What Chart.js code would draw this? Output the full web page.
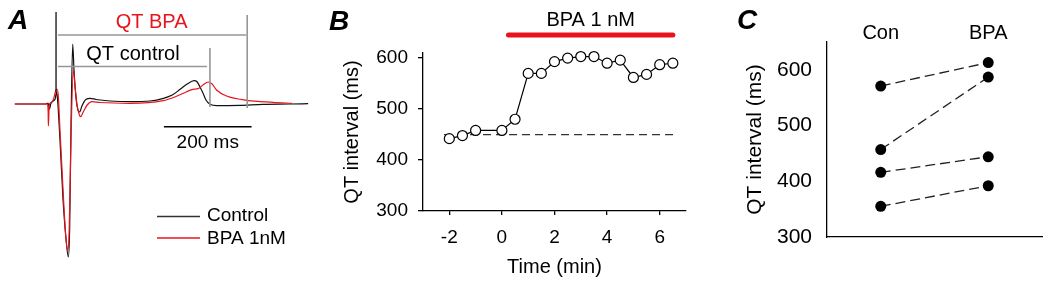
<!DOCTYPE html>
<html><head><meta charset="utf-8">
<script src="https://cdn.jsdelivr.net/npm/chart.js@4.4.1/dist/chart.umd.min.js"></script>
<style>
html,body{margin:0;padding:0;background:#fff;}
#wrap{position:relative;width:1050px;height:287px;overflow:hidden;}
.pc{position:absolute;top:0;height:287px;}
.lab{position:absolute;font:italic bold 28px "Liberation Sans",Arial,sans-serif;color:#000;line-height:1;}
</style></head><body>
<div id="wrap">
  <div class="pc" style="left:0;width:335px"><canvas id="cA"></canvas></div>
  <div class="pc" style="left:335px;width:365px"><canvas id="cB"></canvas></div>
  <div class="pc" style="left:700px;width:350px"><canvas id="cC"></canvas></div>
  <div class="lab" style="left:8px;top:6px">A</div>
  <div class="lab" style="left:329px;top:7px">B</div>
  <div class="lab" style="left:737px;top:6px">C</div>
</div>
<script>
// ---------- Panel A: ECG traces (time in ms, amplitude in a.u.) ----------
const ctrlTime = [-94,-23,-18,-15,-12,-7,-2,1,3,9,16,23,28,31,34,38,41,46,50,54,59,68,78,91,123,169,214,245,265,283,299,315,322,328,335,342,351,367,420,472,534,575];
const ctrlAmp  = [0,0,1,-5,0,3,5,12,7,-36,-96,-136,-153,-126,-26,60,34,4,-6,-8,-2,4.5,5.7,4.5,3,2.3,3,5.7,9,14.7,20,23.3,22,17.3,11,4,-0.3,-1.7,-1.3,-0.3,0,0.3];
const bpaTime  = [-94,-20,-18,-17.5,-16,-15,-9,-5,-1,2,5,9,16,22,26,30,34,39.5,43,48,52.5,56,62,71,82,100,169,244,271,298,312,324,335,347,356,366,389,435,495,538];
const bpaAmp   = [0,0,-8,-22,-6,0,2,6,13,15,9,-26,-86,-131,-146,-126,-36,34,19,-1,-10,-12.7,-8,-1,2.3,1.5,0.7,3.3,7,12.3,14.7,15.3,19,22,20,14,8,3.7,1.7,0.7];
const qtStart = 0, qtControlEnd = 351, qtBpaEnd = 436;
const scaleBarStart = 246, scaleBarLen = 200;
const traceLabels = ['Control', 'BPA 1nM'];

// ---------- Panel B: time course ----------
const timeMin = [-2,-1.5,-1,0,0.5,1,1.5,2,2.5,3,3.5,4,4.5,5,5.5,6,6.5];
const qtMs    = [442,448,458,458,480,570,570,593,600,603,603,590,596,562,568,587,590];
const timeTicks = [-2,0,2,4,6];
const qtTicks = [300,400,500,600];
const baselineQT = 450;
const baselineSpan = [-2.2, 6.7];
const bpaPeriod = [0.25, 6.5];
const bpaBarLabel = 'BPA 1 nM';

// ---------- Panel C: paired QT ----------
const groups = ['Con', 'BPA'];
const conQT = [571, 457, 416, 355];
const bpaQT = [613, 587, 444, 392];

const FONT = '"Liberation Sans", Arial, sans-serif';
const RED = 'rgb(232,20,28)';
const GRAYL = 'rgb(150,150,150)';
Chart.defaults.font.family = FONT;
Chart.defaults.color = '#000';
const zip = (xs, ys) => xs.map((v, i) => ({x: v, y: ys[i]}));

function ln(ctx, x1, y1, x2, y2, color, w, cap) {
  ctx.beginPath(); ctx.strokeStyle = color; ctx.lineWidth = w; ctx.lineCap = cap || 'butt';
  ctx.moveTo(x1, y1); ctx.lineTo(x2, y2); ctx.stroke();
}
function tx(ctx, s, x, y, color, size, align) {
  ctx.fillStyle = color; ctx.font = size + 'px ' + FONT;
  ctx.textAlign = align || 'center'; ctx.textBaseline = 'middle';
  ctx.fillText(s, x, y);
}

// Panel A
const annotA = {
  id: 'annotA',
  afterDraw(chart) {
    const ctx = chart.ctx, X = chart.scales.x;
    const px = v => X.getPixelForValue(v);
    ctx.save();
    ln(ctx, px(qtStart), 12, px(qtStart), 92, '#111', 1.3);
    ln(ctx, px(qtBpaEnd), 15, px(qtBpaEnd), 108, GRAYL, 1.6);
    ln(ctx, px(qtControlEnd), 48, px(qtControlEnd), 107, GRAYL, 1.6);
    ln(ctx, px(qtStart) + 2, 35, px(qtBpaEnd) - 1, 35, GRAYL, 1.6);
    ln(ctx, px(qtStart) + 2, 66.5, px(qtControlEnd) - 3, 66.5, GRAYL, 1.6);
    tx(ctx, 'QT BPA', (px(qtStart) + px(qtBpaEnd)) / 2, 22, RED, 20);
    tx(ctx, 'QT control', (px(qtStart) + px(qtControlEnd)) / 2, 54, '#000', 20);
    ln(ctx, px(scaleBarStart), 126.7, px(scaleBarStart + scaleBarLen), 126.7, '#000', 1.5);
    tx(ctx, scaleBarLen + ' ms', (px(scaleBarStart) + px(scaleBarStart + scaleBarLen)) / 2, 142.5, '#000', 19);
    ln(ctx, 157, 216.5, 200, 216.5, '#333', 1.3);
    tx(ctx, traceLabels[0], 207, 216, '#000', 19, 'left');
    ln(ctx, 157, 238, 200, 238, RED, 1.3);
    tx(ctx, traceLabels[1], 207, 238.5, '#000', 19, 'left');
    ctx.restore();
  }
};
new Chart(document.getElementById('cA'), {
  type: 'line',
  data: { datasets: [
    { label: traceLabels[1], data: zip(bpaTime, bpaAmp), borderColor: RED, borderWidth: 1.2, pointRadius: 0, cubicInterpolationMode: 'monotone', order: 0 },
    { label: traceLabels[0], data: zip(ctrlTime, ctrlAmp), borderColor: '#111', borderWidth: 1.2, pointRadius: 0, cubicInterpolationMode: 'monotone', order: 1 }
  ]},
  options: {
    responsive: true, maintainAspectRatio: false, animation: false,
    layout: { padding: { left: 10, right: 15, top: 0, bottom: 0 } },
    plugins: { legend: { display: false }, tooltip: { enabled: false } },
    scales: {
      x: { type: 'linear', display: false, min: -105, max: 602 },
      y: { type: 'linear', display: false, min: -183, max: 104 }
    }
  },
  plugins: [annotA]
});

// Panel B
const annotB = {
  id: 'annotB',
  afterDraw(chart) {
    const ctx = chart.ctx, X = chart.scales.x;
    const a = X.getPixelForValue(bpaPeriod[0]), b = X.getPixelForValue(bpaPeriod[1]);
    ctx.save();
    ln(ctx, a, 35, b, 35, RED, 5, 'round');
    tx(ctx, bpaBarLabel, (a + b) / 2, 20, '#000', 20);
    ctx.restore();
  }
};
new Chart(document.getElementById('cB'), {
  type: 'line',
  data: { datasets: [
    { data: zip(timeMin, qtMs), borderColor: '#000', borderWidth: 1.2, pointRadius: 5, pointBorderWidth: 1.2,
      pointBackgroundColor: '#fff', pointBorderColor: '#000', order: 0 },
    { data: baselineSpan.map(v => ({x: v, y: baselineQT})), borderColor: '#333', borderWidth: 1.3, borderDash: [8, 5], pointRadius: 0, order: 1 }
  ]},
  options: {
    responsive: true, maintainAspectRatio: false, animation: false, clip: false,
    layout: { padding: { left: 0, right: 14, top: 53, bottom: 0 } },
    plugins: { legend: { display: false }, tooltip: { enabled: false } },
    scales: {
      x: { type: 'linear', min: -3, max: 7,
        afterBuildTicks: s => { s.ticks = timeTicks.map(v => ({value: v})); },
        afterFit: s => { s.height = 76; },
        grid: { drawOnChartArea: false, tickLength: 4, color: '#000', lineWidth: 1.3 },
        border: { color: '#000', width: 1.3 },
        ticks: { font: { size: 19 }, padding: 11, maxRotation: 0 },
        title: { display: true, text: 'Time (min)', font: { size: 20 }, padding: { top: 0, bottom: 8 } }
      },
      y: { type: 'linear', min: 300, max: 610,
        afterBuildTicks: s => { s.ticks = qtTicks.map(v => ({value: v})); },
        afterFit: s => { s.width = 88; },
        grid: { drawOnChartArea: false, tickLength: 5, color: '#000', lineWidth: 1.3 },
        border: { color: '#000', width: 1.3 },
        ticks: { font: { size: 19 }, padding: 10 },
        title: { display: true, text: 'QT interval (ms)', font: { size: 20 }, padding: { top: 5, bottom: 0 } }
      }
    }
  },
  plugins: [annotB]
});

// Panel C
new Chart(document.getElementById('cC'), {
  type: 'line',
  data: {
    labels: groups,
    datasets: conQT.map((c, i) => ({
      data: [c, bpaQT[i]], borderColor: '#222', borderWidth: 1.3, borderDash: [10, 5],
      pointRadius: 5.5, pointBackgroundColor: '#000', pointBorderColor: '#000', pointBorderWidth: 0,
      xAxisID: 'x', yAxisID: 'y'
    }))
  },
  options: {
    responsive: true, maintainAspectRatio: false, animation: false, clip: false,
    layout: { padding: { left: 0, right: 8, top: 0, bottom: 0 } },
    plugins: { legend: { display: false }, tooltip: { enabled: false } },
    scales: {
      x: { type: 'category', position: 'bottom', offset: true,
        afterFit: s => { s.height = 50; },
        grid: { display: false }, border: { color: '#000', width: 1.3 },
        ticks: { display: false }
      },
      x2: { type: 'category', position: 'top', offset: true, labels: groups,
        afterFit: s => { s.height = 42; },
        grid: { display: false, drawTicks: false }, border: { display: false },
        ticks: { font: { size: 20 }, padding: -3, maxRotation: 0 }
      },
      y: { type: 'linear', min: 300, max: 650,
        afterBuildTicks: s => { s.ticks = qtTicks.map(v => ({value: v})); },
        afterFit: s => { s.width = 127; },
        grid: { display: false, drawTicks: false }, border: { color: '#000', width: 1.3 },
        ticks: { font: { size: 21 }, padding: 15 },
        title: { display: true, text: 'QT interval (ms)', font: { size: 21 }, padding: { top: 43, bottom: 0 } }
      }
    }
  }
});
</script>
</body></html>
